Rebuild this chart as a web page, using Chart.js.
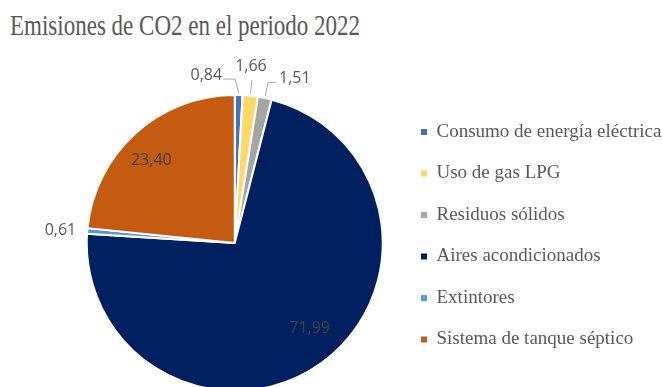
<!DOCTYPE html>
<html>
<head>
<meta charset="utf-8">
<script src="https://cdn.jsdelivr.net/npm/chart.js@4.4.0/dist/chart.umd.min.js"></script>
<style>
html,body{margin:0;padding:0;background:#fff;overflow:hidden;width:662px;height:387px;}
#wrap{position:relative;width:662px;height:387px;overflow:hidden;background:#fff;}
#title{position:absolute;left:10px;top:11px;font-family:'Liberation Serif',serif;font-size:23px;line-height:23px;color:#595959;white-space:nowrap;transform:scaleY(1.25);transform-origin:0 0;}
canvas{position:absolute;left:0;top:0;}
</style>
</head>
<body>
<div id="wrap">
  <div id="title"></div>
  <canvas id="c" width="662" height="393"></canvas>
</div>
<script>
const chartTitle = 'Emisiones de CO2 en el periodo 2022';
const categories = ['Consumo de energía eléctrica', 'Uso de gas LPG', 'Residuos sólidos', 'Aires acondicionados', 'Extintores', 'Sistema de tanque séptico'];
const emissions = [0.84, 1.66, 1.51, 71.99, 0.61, 23.40];
const sliceColors = ['#4472C4', '#FFD966', '#A5A5A5', '#002060', '#5B9BD5', '#C55A11'];

// label placement styles (not data)
const labelStyles = [
  {mode: 'out', side: 'left'},
  {mode: 'out', side: 'up'},
  {mode: 'out', side: 'right'},
  {mode: 'in', dx: 7, dy: -8},
  {mode: 'side'},
  {mode: 'in', dx: -6, dy: 3}
];

document.getElementById('title').textContent = chartTitle;

const fmt = v => v.toFixed(2).replace('.', ',');

const pieLabels = {
  id: 'pieLabels',
  afterDatasetsDraw(chart) {
    const ctx = chart.ctx;
    const meta = chart.getDatasetMeta(0);
    const values = chart.data.datasets[0].data;
    ctx.save();
    ctx.font = '16px "Open Sans", sans-serif';
    meta.data.forEach((arc, i) => {
      const p = arc.getProps(['x', 'y', 'startAngle', 'endAngle', 'outerRadius'], true);
      const mid = (p.startAngle + p.endAngle) / 2;
      const ux = Math.cos(mid), uy = Math.sin(mid);
      const R = p.outerRadius;
      const st = labelStyles[i];
      const txt = fmt(values[i]);
      if (st.mode === 'in') {
        const x = p.x + ux * R * 0.78 + st.dx;
        const y = p.y + uy * R * 0.78 + st.dy;
        ctx.fillStyle = '#404040';
        ctx.textAlign = 'center';
        ctx.textBaseline = 'middle';
        ctx.fillText(txt, x, y);
      } else if (st.mode === 'side') {
        const ex = p.x + ux * (R + 2), ey = p.y + uy * (R + 2);
        ctx.fillStyle = '#595959';
        ctx.textAlign = 'right';
        ctx.textBaseline = 'middle';
        ctx.fillText(txt, ex - 9, ey);
      } else {
        const ex = p.x + ux * (R + 2), ey = p.y + uy * (R + 2);
        const bx = p.x + ux * (R + 16) + (st.side === 'left' ? -4 : 0), by = p.y + uy * (R + 16);
        ctx.strokeStyle = '#A6A6A6';
        ctx.lineWidth = 1;
        ctx.beginPath();
        ctx.moveTo(ex, ey);
        ctx.lineTo(bx, by);
        if (st.side === 'left') { ctx.lineTo(bx - 12, by); }
        if (st.side === 'right') { ctx.lineTo(bx + 8, by); }
        ctx.stroke();
        ctx.fillStyle = '#595959';
        ctx.textBaseline = 'alphabetic';
        if (st.side === 'left') { ctx.textAlign = 'right'; ctx.fillText(txt, bx - 13, by + 0.5); }
        else if (st.side === 'right') { ctx.textAlign = 'left'; ctx.fillText(txt, bx + 11, by + 0.5); }
        else { ctx.textAlign = 'center'; ctx.fillText(txt, bx - 1, by - 9); }
      }
    });
    ctx.restore();
  }
};

new Chart(document.getElementById('c'), {
  type: 'pie',
  data: {
    labels: categories,
    datasets: [{
      data: emissions,
      backgroundColor: sliceColors,
      borderColor: '#ffffff',
      borderWidth: 2
    }]
  },
  options: {
    responsive: false,
    devicePixelRatio: 1,
    animation: false,
    layout: {padding: {left: 71, top: 94, right: 0, bottom: 1}},
    plugins: {
      tooltip: {enabled: false},
      legend: {
        position: 'right',
        align: 'start',
        maxWidth: 263.5,
        title: {display: true, text: '', font: {size: 1, lineHeight: 1}, padding: {top: 0, bottom: 5}},
        labels: {
          boxWidth: 6,
          boxHeight: 6,
          padding: 22.5,
          color: '#595959',
          font: {family: '"Liberation Serif", serif', size: 19},
          generateLabels(chart) {
            return Chart.overrides.pie.plugins.legend.labels.generateLabels(chart).map(l => Object.assign(l, {lineWidth: 0, strokeStyle: 'rgba(0,0,0,0)'}));
          }
        }
      }
    }
  },
  plugins: [pieLabels]
});
</script>
</body>
</html>
